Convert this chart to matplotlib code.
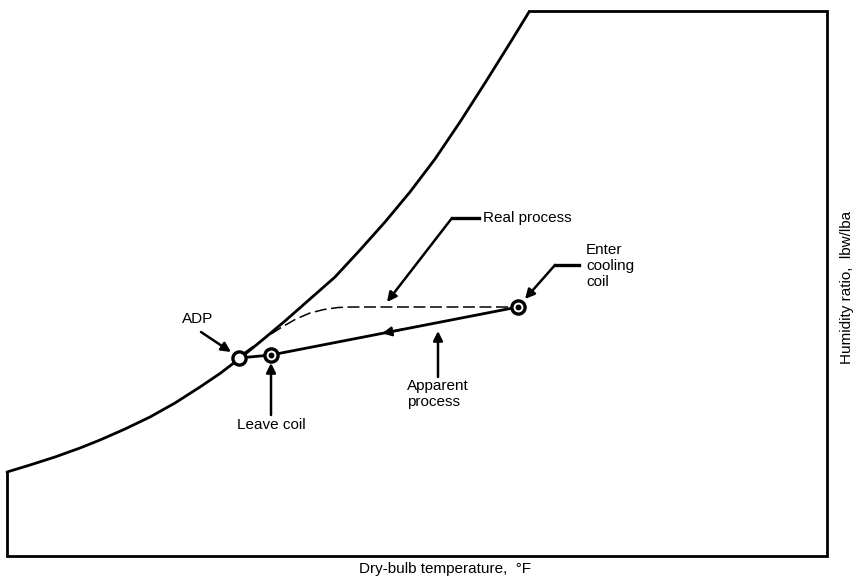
import matplotlib
matplotlib.use("Agg")
import matplotlib.pyplot as plt

# ---- data (chart units: x = dry-bulb position, y = humidity position, y up) ----
H = 584
sat_x = [7, 30, 55, 80, 100, 125, 150, 175, 200, 220, 239, 260, 285, 310, 335,
         360, 385, 410, 435, 460, 485, 510, 529]
sat_py = [472, 465, 457, 448, 440, 429, 417, 403, 387, 373.5, 359, 342, 321, 299, 277,
          250, 222, 192, 159, 122, 83, 43, 12]
sat_y = [H - v for v in sat_py]

box_left, box_right, box_bottom, box_top = 7, 827, H - 556, H - 11

adp = (239, H - 358)
leave = (271, H - 355)
enter = (518, H - 307)

real_x = [244, 255, 268, 282, 296, 310, 324, 338, 352, 512]
real_y = [H - v for v in [353, 345, 336, 327, 319, 313, 309.5, 307.5, 307, 307]]

plt.rcParams["font.family"] = ["Liberation Sans", "DejaVu Sans"]

fig = plt.figure(figsize=(8.56, 5.84), dpi=100)
ax = fig.add_axes([0, 0, 1, 1])
ax.set_xlim(0, 856)
ax.set_ylim(0, H)
ax.axis("off")

fs = 11
lw_main = 2.0

# boundary: saturation curve + box
ax.plot(sat_x, sat_y, color="black", lw=lw_main, solid_joinstyle="round", solid_capstyle="round")
ax.plot([sat_x[0], box_left, box_left, box_right, box_right, sat_x[-1]],
        [sat_y[0], sat_y[0], box_bottom, box_bottom, box_top, box_top],
        color="black", lw=lw_main, solid_joinstyle="miter")

# real process (dashed)
ax.plot(real_x, real_y, color="black", lw=1.1, dashes=(7.8, 3))

# apparent process (solid)
ax.plot([adp[0], leave[0], enter[0]], [adp[1], leave[1], enter[1]], color="black", lw=2.0)

# direction arrow on apparent process
t0 = 0.55
ax.annotate("", xy=(enter[0] + (leave[0] - enter[0]) * t0, enter[1] + (leave[1] - enter[1]) * t0),
            xytext=(enter[0] + (leave[0] - enter[0]) * (t0 - 0.08), enter[1] + (leave[1] - enter[1]) * (t0 - 0.08)),
            arrowprops=dict(arrowstyle="-|>", color="black", lw=1.6, mutation_scale=14,
                            shrinkA=0, shrinkB=0))

# circles
for (px, py), dot in [(adp, False), (leave, True), (enter, True)]:
    ax.plot(px, py, "o", ms=9.5, mfc="white", mec="black", mew=2.4, zorder=5)
    if dot:
        ax.plot(px, py, "o", ms=3.2, color="black", zorder=6)

arrow_kw = dict(arrowstyle="-|>", color="black", lw=1.8, mutation_scale=14, shrinkA=0, shrinkB=0)

# Real process label
ax.plot([452, 479], [H - 218, H - 218], color="black", lw=2.4)
ax.annotate("", xy=(387, H - 302), xytext=(452, H - 218), arrowprops=arrow_kw)
ax.text(483, H - 218, "Real process", fontsize=fs, va="center", ha="left")

# Enter cooling coil
ax.plot([555, 579], [H - 265, H - 265], color="black", lw=2.4)
ax.annotate("", xy=(525, H - 299), xytext=(555, H - 265), arrowprops=arrow_kw)
ax.text(586, H - 266, "Enter\ncooling\ncoil", fontsize=fs, va="center", ha="left", linespacing=1.15)

# ADP
ax.text(198, H - 319, "ADP", fontsize=fs, va="center", ha="center")
ax.annotate("", xy=(231, H - 352), xytext=(201, H - 332), arrowprops=arrow_kw)

# Apparent process
ax.annotate("", xy=(438, H - 331), xytext=(438, H - 377), arrowprops=arrow_kw)
ax.text(407, H - 394, "Apparent\nprocess", fontsize=fs, va="center", ha="left", linespacing=1.15)

# Leave coil
ax.annotate("", xy=(271, H - 363), xytext=(271, H - 415), arrowprops=arrow_kw)
ax.text(271, H - 425, "Leave coil", fontsize=fs, va="center", ha="center")

# axis labels
ax.text(445, H - 569, "Dry-bulb temperature,  \u00b0F", fontsize=fs, ha="center", va="center")
ax.text(847, H - 287, "Humidity ratio,  lbw/lba", fontsize=fs, ha="center", va="center", rotation=90)

fig.savefig("out.png", dpi=100)
